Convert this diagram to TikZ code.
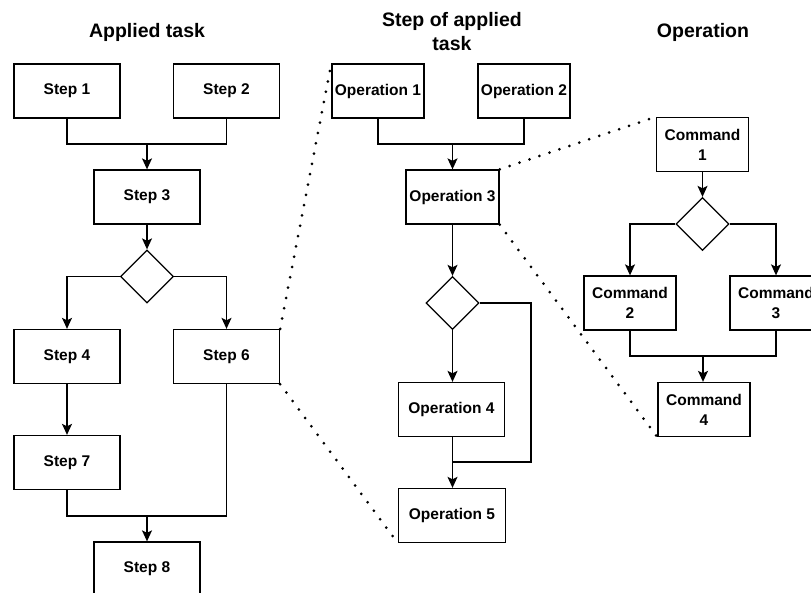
\documentclass[tikz,border=0pt]{standalone}
\usepackage{fontspec}
\setmainfont{Liberation Sans}
\usetikzlibrary{arrows.meta,shapes.geometric}

\tikzset{
  box/.style={draw, line width=1.3pt, rectangle, inner sep=0pt, minimum height=54pt,
    align=center, font=\fontsize{15.5}{20}\selectfont\bfseries},
  decision/.style={draw, line width=1.3pt, diamond, inner sep=0pt, minimum width=53pt, minimum height=53pt},
  title/.style={align=center, font=\fontsize{19.5}{24}\selectfont\bfseries},
  flow/.style={line width=1.3pt},
  arr/.style={flow, -{Stealth[length=11pt,width=10pt,inset=2.5pt]}},
  zoomline/.style={line width=3pt, line cap=round, dash pattern=on 0pt off 10.5pt},
}

\begin{document}
\begin{tikzpicture}[x=1pt,y=-1pt]
\useasboundingbox (0,0) rectangle (811,592);

% column titles
\node[title] (t1) at (147,32) {Applied task};
\node[title] (t2) at (452,32) {Step of applied\\task};
\node[title] (t3) at (703,32) {Operation};

% applied task
\node[box, minimum width=106pt] (s1) at (67,91) {Step 1};
\node[box, minimum width=106pt] (s2) at (226.5,91) {Step 2};
\node[box, minimum width=106pt] (s3) at (147,197) {Step 3};
\node[decision] (d1) at (147,276.5) {};
\node[box, minimum width=106pt] (s4) at (67,356.5) {Step 4};
\node[box, minimum width=106pt] (s6) at (226.5,356.5) {Step 6};
\node[box, minimum width=106pt] (s7) at (67,462.5) {Step 7};
\node[box, minimum width=106pt] (s8) at (147,569) {Step 8};
\coordinate (j1) at (147,144);
\coordinate (j2) at (147,516);

\draw[flow] (s1) |- (j1);
\draw[flow] (s2) |- (j1);
\draw[arr] (j1) -- (s3);
\draw[arr] (s3) -- (d1);
\draw[arr] (d1.west) -| (s4.north);
\draw[arr] (d1.east) -| (s6.north);
\draw[arr] (s4) -- (s7);
\draw[flow] (s7) |- (j2);
\draw[flow] (s6) |- (j2);
\draw[arr] (j2) -- (s8);

% step of applied task
\node[box, minimum width=92pt] (o1) at (378,91) {Operation 1};
\node[box, minimum width=92pt] (o2) at (524,91) {Operation 2};
\node[box, minimum width=93pt] (o3) at (452.5,197) {Operation 3};
\node[decision] (d2) at (452.5,303) {};
\node[box, minimum width=106pt] (o4) at (451.5,409.5) {Operation 4};
\node[box, minimum width=107pt] (o5) at (452,515.5) {Operation 5};
\coordinate (j3) at (452.5,144);
\coordinate (j4) at (452.5,462);
\coordinate (r2) at (531,462);

\draw[flow] (o1) |- (j3);
\draw[flow] (o2) |- (j3);
\draw[arr] (j3) -- (o3);
\draw[arr] (o3) -- (d2);
\draw[arr] (d2) -- (d2 |- o4.north);
\draw[flow] (d2.east) -| (r2) -- (j4);
\draw[flow] (o4.south -| j4) -- (j4);
\draw[arr] (j4) -- (j4 |- o5.north);

% operation
\node[box, minimum width=92pt] (c1) at (702.5,144.5) {Command\\1};
\node[decision] (d3) at (702.5,224) {};
\node[box, minimum width=92pt] (c2) at (630,303) {Command\\2};
\node[box, minimum width=92pt] (c3) at (776,303) {Command\\3};
\node[box, minimum width=92pt] (c4) at (704,409.5) {Command\\4};
\coordinate (j5) at (703,356);

\draw[arr] (c1) -- (d3);
\draw[arr] (d3.west) -| (c2.north);
\draw[arr] (d3.east) -| (c3.north);
\draw[flow] (c2) |- (j5);
\draw[flow] (c3) |- (j5);
\draw[arr] (j5) -- (j5 |- c4.north);

% zoom-in guides
\draw[zoomline] (s6.north east) -- (o1.north west);
\draw[zoomline] (s6.south east) -- (o5.south west);
\draw[zoomline] (o3.north east) -- (c1.north west);
\draw[zoomline] (o3.south east) -- (c4.south west);
\end{tikzpicture}
\end{document}
